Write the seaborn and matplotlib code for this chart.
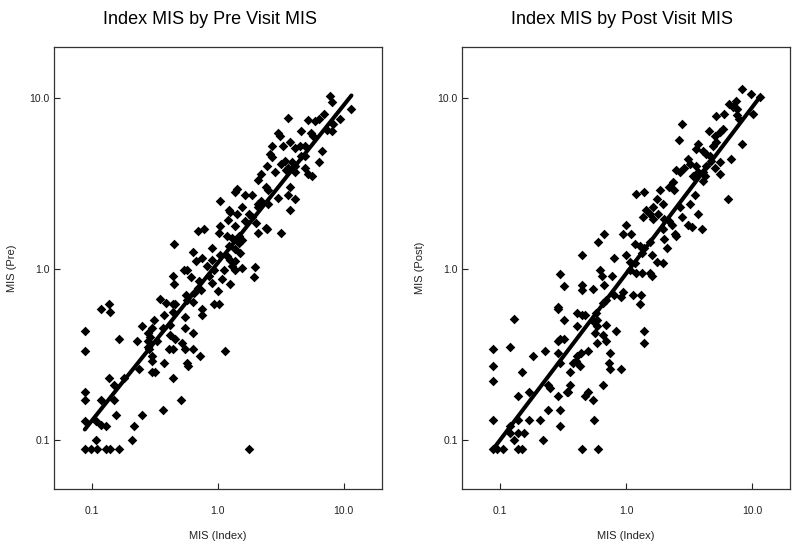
import numpy as np
import matplotlib.pyplot as plt
import seaborn as sns

# MIS values: x = index visit, y = pre visit (left) / post visit (right)
pre_index = [7.7, 8.0, 11.5, 9.4, 7.0, 8.2, 7.4, 8.0, 6.3, 5.9,
             5.2, 3.6, 4.6, 5.5, 5.7, 3.0, 3.1, 2.7, 3.3, 3.75,
             4.1, 4.5, 4.9, 6.7, 2.6, 2.7, 4.6, 4.9, 3.2, 3.4,
             3.9, 4.1, 3.6, 6.3, 4.9, 5.2, 5.6, 2.45, 2.2, 2.85,
             3.5, 4.1, 2.1, 2.4, 2.5, 3.0, 3.6, 4.1, 3.75, 1.42,
             1.38, 1.65, 1.87, 1.05, 1.56, 2.1, 2.2, 2.5, 2.1, 3.75,
             1.22, 1.26, 1.42, 1.87, 1.76, 1.2, 1.05, 1.38, 1.65, 2.0,
             2.1, 2.4, 2.45, 0.69, 0.78, 1.02, 1.19, 1.3, 1.47, 1.56,
             3.2, 0.45, 0.9, 1.22, 1.47, 1.38, 1.5, 0.63, 0.75, 0.9,
             1.05, 1.19, 1.26, 1.38, 0.54, 0.57, 0.67, 0.82, 0.93, 1.12,
             1.3, 1.38, 1.56, 1.96, 0.44, 0.45, 0.61, 0.71, 0.85, 0.9,
             1.08, 1.26, 1.92, 0.69, 0.56, 0.65, 0.73, 1.0, 0.118, 0.138,
             0.14, 0.35, 0.39, 0.44, 0.46, 0.57, 0.63, 0.75, 0.75, 0.93,
             1.02, 0.375, 0.44, 0.55, 0.42, 0.088, 0.088, 0.25, 0.28, 0.30,
             0.31, 0.365, 0.55, 0.64, 0.165, 0.23, 0.28, 0.29, 0.33, 0.42,
             0.46, 0.52, 0.28, 0.285, 0.41, 0.44, 0.55, 0.64, 0.72, 1.14,
             0.30, 0.30, 0.375, 0.57, 0.58, 0.235, 0.30, 0.32, 0.138, 0.18,
             0.44, 0.15, 0.088, 0.088, 0.118, 0.15, 0.51, 0.37, 0.155, 0.25,
             0.088, 0.108, 0.118, 0.13, 0.215, 0.108, 0.21, 0.088, 0.099, 0.11,
             0.13, 0.14, 0.165, 1.76]
pre_mis = [10.3, 9.4, 8.6, 7.5, 8.0, 7.0, 6.5, 6.4, 7.5, 7.3,
           7.4, 7.6, 6.4, 6.2, 6.0, 6.2, 6.0, 5.2, 5.2, 5.5,
           5.1, 5.2, 5.2, 4.9, 4.7, 4.5, 4.6, 4.6, 4.1, 4.3,
           4.2, 4.0, 3.9, 4.2, 3.9, 3.6, 3.5, 4.0, 3.6, 3.7,
           3.8, 3.7, 3.3, 3.0, 2.9, 2.6, 2.7, 2.55, 3.0, 2.95,
           2.8, 2.7, 2.7, 2.5, 2.3, 2.4, 2.5, 2.4, 2.3, 2.2,
           2.2, 2.15, 2.1, 2.0, 2.1, 1.94, 1.78, 1.78, 1.9, 1.86,
           1.62, 1.74, 1.7, 1.66, 1.7, 1.62, 1.55, 1.52, 1.55, 1.48,
           1.62, 1.39, 1.33, 1.36, 1.42, 1.3, 1.24, 1.26, 1.16, 1.13,
           1.21, 1.19, 1.13, 1.11, 0.99, 0.99, 1.11, 1.04, 0.99, 0.99,
           1.04, 0.99, 1.01, 1.03, 0.91, 0.81, 0.89, 0.85, 0.91, 0.83,
           0.87, 0.81, 0.89, 0.77, 0.70, 0.72, 0.75, 0.74, 0.58, 0.62,
           0.56, 0.67, 0.63, 0.62, 0.62, 0.66, 0.64, 0.58, 0.54, 0.62,
           0.62, 0.54, 0.56, 0.52, 0.47, 0.43, 0.33, 0.46, 0.42, 0.45,
           0.50, 0.45, 0.45, 0.42, 0.39, 0.38, 0.38, 0.40, 0.38, 0.41,
           0.39, 0.37, 0.35, 0.34, 0.34, 0.34, 0.34, 0.34, 0.31, 0.33,
           0.31, 0.29, 0.28, 0.28, 0.27, 0.26, 0.25, 0.25, 0.23, 0.23,
           0.23, 0.21, 0.19, 0.17, 0.17, 0.17, 0.17, 0.15, 0.14, 0.14,
           0.128, 0.128, 0.122, 0.12, 0.12, 0.10, 0.10, 0.088, 0.088, 0.088,
           0.088, 0.088, 0.088, 0.088]

post_index = [8.3, 9.8, 11.6, 10.2, 8.3, 7.4, 7.0, 7.6, 6.5, 7.9,
              7.5, 6.0, 5.2, 5.9, 5.5, 4.55, 5.1, 5.2, 4.9, 2.75,
              2.65, 3.7, 3.6, 4.1, 4.3, 4.6, 4.75, 5.05, 5.5, 6.8,
              5.5, 4.3, 3.1, 3.2, 2.9, 3.6, 3.7, 3.4, 4.1, 4.2,
              4.1, 2.5, 2.7, 2.35, 2.2, 2.4, 1.85, 1.2, 1.4, 1.75,
              1.95, 1.65, 1.45, 1.8, 1.55, 2.7, 3.2, 3.7, 2.8, 3.1,
              3.3, 4.0, 6.4, 3.5, 1.37, 1.65, 2.0, 2.2, 2.3, 1.95,
              2.45, 2.5, 2.0, 2.1, 1.0, 0.94, 1.1, 1.18, 1.3, 1.33,
              1.55, 1.4, 1.6, 1.75, 1.95, 0.67, 0.6, 0.45, 0.8, 1.0,
              1.07, 1.18, 0.30, 0.32, 0.45, 0.62, 0.64, 0.78, 0.67, 0.55,
              1.07, 1.2, 1.33, 1.55, 1.6, 0.45, 0.81, 0.94, 0.92, 1.14,
              1.32, 1.29, 0.70, 0.66, 0.29, 0.29, 0.41, 0.45, 0.47, 0.58,
              0.59, 0.56, 0.32, 0.13, 0.41, 0.59, 0.69, 0.84, 0.57, 1.4,
              1.4, 0.30, 0.32, 0.29, 0.66, 0.70, 0.59, 0.088, 0.12, 0.23,
              0.29, 0.44, 0.50, 0.75, 0.185, 0.41, 0.40, 0.38, 0.43, 0.36,
              0.73, 0.75, 0.92, 0.088, 0.15, 0.088, 0.30, 0.24, 0.25, 0.36,
              0.35, 0.34, 0.66, 0.17, 0.14, 0.29, 0.47, 0.50, 0.55, 0.24,
              0.30, 0.088, 0.17, 0.21, 0.14, 0.12, 0.30, 0.56, 0.12, 0.14,
              0.155, 0.13, 0.22, 0.088, 0.095, 0.107, 0.14, 0.15, 0.45, 0.60]
post_mis = [11.2, 10.5, 10.1, 8.0, 5.4, 9.6, 8.9, 8.6, 9.2, 7.5,
            7.9, 8.0, 7.8, 6.6, 6.3, 6.4, 6.0, 5.5, 5.2, 7.0,
            5.7, 5.4, 5.0, 4.9, 4.7, 4.6, 4.3, 3.9, 3.6, 4.4,
            4.2, 4.0, 4.4, 4.1, 3.9, 4.0, 3.7, 3.5, 3.7, 3.5,
            3.25, 3.8, 3.7, 3.2, 3.0, 2.9, 2.9, 2.75, 2.8, 2.55,
            2.4, 2.3, 2.2, 2.1, 2.1, 2.3, 2.4, 2.1, 2.0, 1.8,
            1.75, 1.7, 2.55, 2.7, 2.0, 1.95, 1.95, 1.9, 1.8, 1.7,
            1.6, 1.55, 1.5, 1.33, 1.8, 1.6, 1.6, 1.4, 1.36, 1.24,
            1.43, 1.33, 1.2, 1.1, 1.08, 1.6, 1.44, 1.2, 1.15, 1.2,
            1.1, 1.08, 0.93, 0.79, 0.8, 0.98, 0.91, 0.91, 0.8, 0.76,
            0.99, 0.95, 0.95, 0.95, 0.91, 0.75, 0.70, 0.73, 0.68, 0.70,
            0.70, 0.62, 0.66, 0.63, 0.60, 0.58, 0.55, 0.54, 0.54, 0.55,
            0.50, 0.49, 0.50, 0.51, 0.46, 0.46, 0.47, 0.43, 0.42, 0.43,
            0.37, 0.39, 0.39, 0.38, 0.41, 0.38, 0.37, 0.34, 0.35, 0.33,
            0.32, 0.32, 0.33, 0.32, 0.31, 0.31, 0.29, 0.28, 0.27, 0.25,
            0.28, 0.26, 0.26, 0.27, 0.25, 0.22, 0.28, 0.21, 0.20, 0.21,
            0.19, 0.19, 0.21, 0.19, 0.18, 0.18, 0.18, 0.19, 0.17, 0.15,
            0.15, 0.13, 0.13, 0.13, 0.13, 0.12, 0.12, 0.13, 0.11, 0.11,
            0.11, 0.10, 0.10, 0.088, 0.088, 0.088, 0.088, 0.088, 0.088, 0.088]

titles = ["Index MIS by Pre Visit MIS", "Index MIS by Post Visit MIS"]
ylabels = ["MIS (Pre)", "MIS (Post)"]
xlabel = "MIS (Index)"
tick_vals = [0.1, 1.0, 10.0]
tick_labels = ["0.1", "1.0", "10.0"]

sns.set_theme(style="white")
plt.rcParams['font.family'] = ['Liberation Sans', 'DejaVu Sans']

fig = plt.figure(figsize=(7.99, 5.48), dpi=100)
ax1 = fig.add_axes([0.0676, 0.107, 0.410, 0.808])
ax2 = fig.add_axes([0.578, 0.107, 0.411, 0.808])

panels = [(ax1, pre_index, pre_mis), (ax2, post_index, post_mis)]
title_x = [0.476, 0.488]
for i, (ax, xs, ys) in enumerate(panels):
    # fit on the log scale -> plot log10 values and relabel the ticks
    lx = np.log10(xs)
    ly = np.log10(ys)
    sns.regplot(x=lx, y=ly, ax=ax, ci=None, color='black', marker='D',
                scatter_kws={'s': 24, 'linewidths': 0, 'alpha': 1},
                line_kws={'linewidth': 2.9, 'color': 'black'})

    ax.set_xlim(-1.3, 1.3)
    ax.set_ylim(-1.29, 1.3)
    ax.set_xticks(np.log10(tick_vals))
    ax.set_xticklabels(tick_labels)
    ax.set_yticks(np.log10(tick_vals))
    ax.set_yticklabels(tick_labels)
    ax.tick_params(axis='x', direction='in', length=4.5, width=0.8, pad=12,
                   labelsize=7.5, colors='#222222', bottom=True)
    ax.tick_params(axis='y', direction='in', length=4.5, width=0.8, pad=3,
                   labelsize=7.5, colors='#222222', left=True)
    ax.set_title(titles[i], fontsize=13, pad=16, color='black', x=title_x[i])
    ax.set_xlabel(xlabel, fontsize=8, labelpad=11, color='#222222')
    ax.set_ylabel(ylabels[i], fontsize=8, labelpad=9, color='#222222')
    for sp in ax.spines.values():
        sp.set_color('#333333')
        sp.set_linewidth(0.9)

plt.savefig('out.png', dpi=100)
